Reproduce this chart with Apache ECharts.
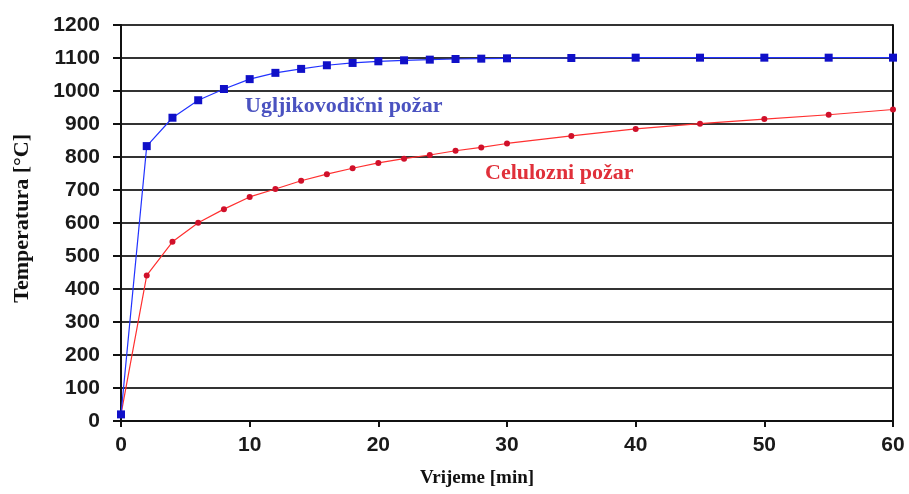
<!DOCTYPE html>
<html>
<head>
<meta charset="utf-8">
<script src="https://cdn.jsdelivr.net/npm/echarts@6/dist/echarts.min.js"></script>
<style>html,body{margin:0;padding:0;background:#fff;}#c{width:909px;height:494px;}</style>
</head>
<body>
<div id="c"></div>
<script>
const timeMin = [0, 2, 4, 6, 8, 10, 12, 14, 16, 18, 20, 22, 24, 26, 28, 30, 35, 40, 45, 50, 55, 60];
const hydrocarbon = [20, 833, 919, 972, 1006, 1036, 1055, 1067, 1078, 1085, 1090, 1093, 1095, 1097, 1098, 1099, 1100, 1101, 1101, 1101, 1101, 1101];
const cellulosic = [20, 441, 543, 601, 642, 679, 703, 728, 748, 766, 782, 795, 806, 819, 829, 841, 864, 885, 901, 915, 928, 944];
const labelHydro = 'Ugljikovodični požar';
const labelCell = 'Celulozni požar';
const xName = 'Vrijeme [min]';
const yName = 'Temperatura [°C]';

const chart = echarts.init(document.getElementById('c'));
chart.setOption({
  backgroundColor: '#fff',
  animation: false,
  grid: { left: 121, right: 16, top: 25, bottom: 73 },
  xAxis: {
    type: 'value', min: 0, max: 60, interval: 10,
    axisLine: { show: true, lineStyle: { color: '#111', width: 2 } },
    axisTick: { show: true, length: 6, lineStyle: { color: '#111', width: 2 } },
    axisLabel: { margin: 14, color: '#1a1a1a', fontFamily: 'Liberation Sans', fontWeight: 'bold', fontSize: 21 },
    splitLine: { show: false }
  },
  yAxis: [{
    type: 'value', min: 0, max: 1200, interval: 100,
    axisLine: { show: true, lineStyle: { color: '#111', width: 2 } },
    axisTick: { show: true, length: 8, lineStyle: { color: '#111', width: 2 } },
    axisLabel: { margin: 21, color: '#1a1a1a', fontFamily: 'Liberation Sans', fontWeight: 'bold', fontSize: 21,
                 formatter: v => String(v) },
    splitLine: { show: true, lineStyle: { color: '#333', width: 2 } }
  }, {
    type: 'value', min: 0, max: 1200, interval: 100, position: 'right',
    axisLine: { show: true, lineStyle: { color: '#111', width: 2 } },
    axisTick: { show: false }, axisLabel: { show: false }, splitLine: { show: false }
  }],
  series: [{
    name: labelCell, type: 'line',
    data: timeMin.map((t, i) => [t, cellulosic[i]]),
    symbol: 'circle', symbolSize: 6,
    lineStyle: { color: '#ff3030', width: 1.2 },
    itemStyle: { color: '#d0102a' },
    z: 3
  }, {
    name: labelHydro, type: 'line',
    data: timeMin.map((t, i) => [t, hydrocarbon[i]]),
    symbol: 'rect', symbolSize: 8,
    lineStyle: { color: '#2233ff', width: 1.2 },
    itemStyle: { color: '#1010c8' },
    z: 4
  }],
  graphic: [
    { type: 'text', left: 245, top: 95, style: { text: labelHydro, fill: '#4a52c0', font: 'bold 22px "Liberation Serif"' } },
    { type: 'text', left: 485, top: 162, style: { text: labelCell, fill: '#e0303a', font: 'bold 22px "Liberation Serif"' } },
    { type: 'text', left: 420, top: 469, style: { text: xName, fill: '#111', font: 'bold 19px "Liberation Serif"' } },
    { type: 'text', left: 11, top: 134, rotation: Math.PI / 2, style: { text: yName, fill: '#111', font: 'bold 22px "Liberation Serif"' } }
  ]
});
</script>
</body>
</html>
